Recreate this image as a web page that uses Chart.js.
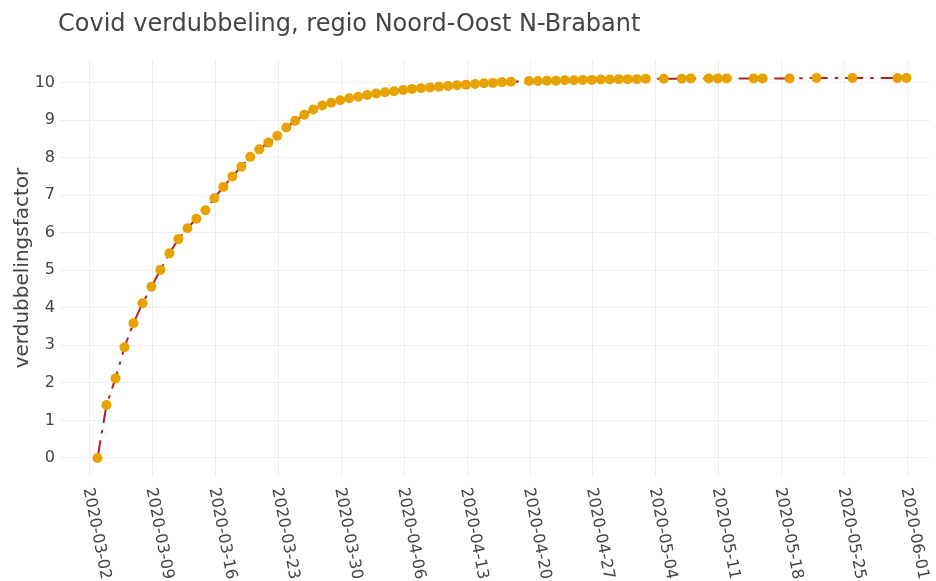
<!DOCTYPE html>
<html>
<head>
<meta charset="utf-8">
<script src="https://cdn.jsdelivr.net/npm/chart.js@4/dist/chart.umd.min.js"></script>
<style>
  body { margin: 0; background: #fff; }
  #wrap { width: 936px; height: 581px; }
</style>
</head>
<body>
<div id="wrap"><canvas id="doublingChart" width="936" height="581"></canvas></div>
<script>
const chartTitle = 'Covid verdubbeling, regio Noord-Oost N-Brabant';
const yAxisTitle = 'verdubbelingsfactor';

// report dates (points sit at the evening of each date)
const reportDates = [
    '2020-03-02', '2020-03-03', '2020-03-04', '2020-03-05', '2020-03-06', '2020-03-07', '2020-03-08',
    '2020-03-09', '2020-03-10', '2020-03-11', '2020-03-12', '2020-03-13', '2020-03-14', '2020-03-15',
    '2020-03-16', '2020-03-17', '2020-03-18', '2020-03-19', '2020-03-20', '2020-03-21', '2020-03-22',
    '2020-03-23', '2020-03-24', '2020-03-25', '2020-03-26', '2020-03-27', '2020-03-28', '2020-03-29',
    '2020-03-30', '2020-03-31', '2020-04-01', '2020-04-02', '2020-04-03', '2020-04-04', '2020-04-05',
    '2020-04-06', '2020-04-07', '2020-04-08', '2020-04-09', '2020-04-10', '2020-04-11', '2020-04-12',
    '2020-04-13', '2020-04-14', '2020-04-15', '2020-04-16', '2020-04-17',
    '2020-04-19', '2020-04-20', '2020-04-21', '2020-04-22', '2020-04-23', '2020-04-24', '2020-04-25',
    '2020-04-26', '2020-04-27', '2020-04-28', '2020-04-29', '2020-04-30', '2020-05-01', '2020-05-02',
    '2020-05-04', '2020-05-06', '2020-05-07', '2020-05-09', '2020-05-10', '2020-05-11',
    '2020-05-14', '2020-05-15', '2020-05-18', '2020-05-21', '2020-05-25', '2020-05-30', '2020-05-31'
];
const reportTime = 'T21:00:00Z';

const doublingFactor = [
    0.00, 1.41, 2.12, 2.95, 3.59, 4.12, 4.56,
    5.01, 5.45, 5.83, 6.12, 6.37, 6.60, 6.92,
    7.22, 7.50, 7.76, 8.02, 8.22, 8.40, 8.58,
    8.80, 8.98, 9.14, 9.28, 9.39, 9.46, 9.53,
    9.58, 9.62, 9.67, 9.71, 9.74, 9.77, 9.80,
    9.83, 9.85, 9.87, 9.89, 9.91, 9.93, 9.94,
    9.96, 9.98, 9.99, 10.01, 10.02,
    10.04, 10.04, 10.05, 10.05, 10.06, 10.06, 10.07,
    10.07, 10.08, 10.08, 10.09, 10.09, 10.09, 10.10,
    10.10, 10.10, 10.11, 10.11, 10.11, 10.11,
    10.11, 10.11, 10.11, 10.12, 10.12, 10.12, 10.12
];

const xTickLabels = [
    '2020-03-02', '2020-03-09', '2020-03-16', '2020-03-23', '2020-03-30', '2020-04-06', '2020-04-13',
    '2020-04-20', '2020-04-27', '2020-05-04', '2020-05-11', '2020-05-18', '2020-05-25', '2020-06-01'
];
const yTickValues = [0, 1, 2, 3, 4, 5, 6, 7, 8, 9, 10];

const startDay = Date.parse('2020-03-02T00:00:00Z');
const dayOf = s => (Date.parse(s) - startDay) / 86400000;

const points = reportDates.map((d, i) => ({ x: dayOf(d + reportTime), y: doublingFactor[i] }));

const fontFamily = '"DejaVu Sans", Verdana, sans-serif';
const textColor = '#444';

// Chart.js only rotates labels counter-clockwise, so the dates and the title are drawn here
const extraText = {
    id: 'extraText',
    afterDraw(chart) {
        const { ctx } = chart;
        const xScale = chart.scales.x;
        ctx.save();
        ctx.fillStyle = textColor;
        ctx.font = '24px ' + fontFamily;
        ctx.textAlign = 'left';
        ctx.textBaseline = 'alphabetic';
        ctx.fillText(chartTitle, 58, 31);

        ctx.font = '16px ' + fontFamily;
        ctx.textBaseline = 'middle';
        xScale.ticks.forEach((t, i) => {
            const px = xScale.getPixelForValue(t.value);
            ctx.save();
            ctx.translate(px - 2, 488);
            ctx.rotate(79 * Math.PI / 180);
            ctx.fillText(xTickLabels[i], 0, 0);
            ctx.restore();
        });
        ctx.restore();
    }
};

new Chart(document.getElementById('doublingChart').getContext('2d'), {
    type: 'line',
    data: {
        datasets: [{
            data: points,
            borderColor: '#B22222',
            borderWidth: 2,
            borderDash: [18, 7, 3.5, 7],
            tension: 0,
            fill: false,
            pointRadius: 5,
            pointHoverRadius: 5,
            pointBackgroundColor: '#E8A200',
            pointBorderWidth: 0
        }]
    },
    options: {
        responsive: false,
        animation: false,
        events: [],
        layout: { padding: { top: 60, right: 6, bottom: 0, left: 0 } },
        plugins: {
            legend: { display: false },
            title: { display: false },
            tooltip: { enabled: false }
        },
        scales: {
            x: {
                type: 'linear',
                min: -3.3,
                max: 93.5,
                afterBuildTicks: s => { s.ticks = xTickLabels.map(d => ({ value: dayOf(d + 'T00:00:00Z') })); },
                afterFit: s => { s.height = 105; },
                ticks: { display: false },
                grid: { color: '#eeeeee', lineWidth: 1, drawTicks: false },
                border: { display: false }
            },
            y: {
                min: -0.48,
                max: 10.6,
                afterBuildTicks: s => { s.ticks = yTickValues.map(v => ({ value: v })); },
                afterFit: s => { s.width = 60; },
                ticks: {
                    padding: 5,
                    color: textColor,
                    font: { family: fontFamily, size: 16 },
                    callback: v => String(v)
                },
                grid: { color: '#eeeeee', lineWidth: 1, drawTicks: false },
                border: { display: false },
                title: {
                    display: true,
                    text: yAxisTitle,
                    color: textColor,
                    font: { family: fontFamily, size: 20 },
                    padding: { top: 11, bottom: 0 }
                }
            }
        }
    },
    plugins: [extraText]
});
</script>
</body>
</html>
